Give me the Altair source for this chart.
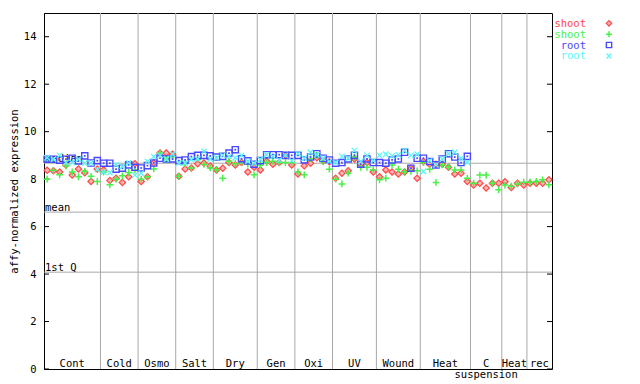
import altair as alt
import pandas as pd

FONT = "DejaVu Sans Mono"
FS = 10.5

# ---- data -------------------------------------------------------------
GROUP_LABELS = ["Cont", "Cold", "Osmo", "Salt", "Dry", "Gen", "Oxi", "UV",
                "Wound", "Heat", "C", "Heat", "rec"]
GROUP_SIZES = [9, 6, 6, 6, 7, 6, 6, 7, 7, 8, 5, 4, 4]
SUB_LABEL = "suspension"

SERIES_LABELS = ["shoot", "shoot", "root", "root"]
SERIES_COLORS = ["#ff4848", "#48f048", "#4848ff", "#5cf6f6"]

NONE13 = [None] * 13

RED = [8.37, 8.35, 8.30, 8.60, 8.17, 8.43, 8.27, 7.90, 8.43,
       8.39, 7.94, 8.04, 7.86, 8.10, 8.65,
       7.90, 8.10, 8.68, 9.10, 9.10, 9.05,
       8.12, 8.43, 8.47, 8.65, 8.68, 8.55,
       8.39, 8.46, 8.70, 8.60, 8.70, 8.30, 8.50,
       8.39, 8.75, 8.63, 8.70, 9.00, 8.60,
       8.22, 8.56, 8.67, 8.90, 8.78, 8.73,
       8.04, 8.25, 8.35, 8.85, 8.63, 8.70, 8.30,
       8.10, 8.39, 8.30, 8.22, 8.30, 8.46, 8.04,
       8.74, 8.63, 8.63, 8.63, 8.50, 8.22, 8.25, 7.90,
       7.75, 7.83, 7.63, 7.83, 7.83,
       7.89, 7.65, 7.83, 7.75,
       7.83, 7.83, 7.83, 7.97]

GREEN = [8.00, 8.37, 8.18, 8.55, 8.30, 8.10, 8.33, 8.12, 7.90,
         8.30, 7.76, 8.00, 8.14, 8.28, 8.38,
         8.00, 8.10, 8.43, 9.10, 8.85, 8.95,
         8.12, 8.65, 8.47, 8.83, 8.62, 8.47,
         8.40, 8.04, 8.75, 8.65, 8.70, 8.63, 8.18,
         8.60, 8.70, 8.75, 8.70, 8.70, 8.70,
         8.30, 8.18, 8.85, 9.00, 8.73, 8.42,
         8.00, 7.80, 8.25, 8.93, 8.50, 8.50, 8.39,
         7.97, 8.04, 8.60, 8.42, 8.30, 8.33, 8.35,
         8.70, 8.42, 7.86, 8.60, 8.52, 8.39, 8.39, 8.04,
         7.83, 8.17, 8.17, 7.83, 7.55,
         7.75, 7.70, 7.79, 7.87,
         7.87, 7.90, 7.97, 7.76]

BLUE = [8.84, 8.84, 8.80, 8.84, 8.88, 8.77, 8.98, 8.68, 8.78,
        8.67, 8.67, 8.42, 8.46, 8.60, 8.50,
        8.47, 8.57, 8.68, 8.88, 8.85, 8.85,
        8.78, 8.81, 8.95, 9.00, 9.00, 8.98,
        8.93, 8.96, 9.10, 9.24, 8.86, 8.77, 8.63,
        8.78, 9.03, 9.03, 9.03, 9.00, 9.00,
        9.00, 8.81, 8.93, 9.07, 8.88, 8.81,
        8.67, 8.70, 8.85, 9.00, 8.63, 8.85, 8.70,
        8.70, 8.67, 8.81, 8.85, 9.13, 8.46, 8.88,
        8.88, 8.74, 8.60, 8.85, 9.07, 8.93, 8.70, 8.96] + NONE13

CYAN = [8.90, 8.84, 9.00, 8.70, 8.70, 8.84, 8.68, 8.68, 8.40,
        8.30, 8.28, 8.60, 8.53, 8.68, 8.17,
        8.25, 8.75, 8.95, 9.00, 8.85, 9.05,
        8.68, 8.68, 8.83, 8.85, 9.17, 8.85,
        8.90, 9.00, 8.96, 8.90, 9.00, 8.75, 8.67,
        8.83, 9.03, 8.96, 8.80, 9.00, 8.78,
        9.07, 8.88, 9.13, 9.03, 8.88, 8.75,
        8.70, 8.96, 8.88, 9.20, 8.75, 9.00, 8.78,
        9.00, 9.05, 8.98, 9.02, 9.20, 9.00, 9.05,
        8.32, 8.78, 8.60, 8.85, 9.07, 9.13, 8.88, 8.70] + NONE13

REF_VALUES = [8.67, 6.61, 4.08]
REF_LABELS = ["median", "mean", "1st Q"]
Y_TICKS = [0, 2, 4, 6, 8, 10, 12, 14]

# ---- derived tables ------------------------------------------------------
N = sum(GROUP_SIZES)
bounds = []
acc = 0
for s in GROUP_SIZES:
    bounds.append(acc)
    acc += s
centers = [b + s / 2 for b, s in zip(bounds, GROUP_SIZES)]

W, H = 508, 356
x_scale = alt.Scale(domain=[0, N], nice=False, zero=False)
y_scale = alt.Scale(domain=[0, 15], nice=False, zero=False)
Y_AXIS = alt.Axis(values=Y_TICKS, ticks=False, tickSize=0, grid=False,
                  domain=True, domainColor="black", labelFont=FONT,
                  labelFontSize=FS, labelColor="black", labelPadding=8,
                  title="affy-normalized expression", titleFont=FONT,
                  titleFontSize=FS, titleFontWeight="normal",
                  titleColor="black", titlePadding=4)

X = lambda f="slot": alt.X(f + ":Q", scale=x_scale, axis=None)
Y = lambda f="value": alt.Y(f + ":Q", scale=y_scale, axis=Y_AXIS)


def pts(vals):
    return pd.DataFrame({"slot": [i + 0.5 for i, v in enumerate(vals) if v is not None],
                         "value": [v for v in vals if v is not None]})


layers = []

# group separators
vdf = pd.DataFrame({"slot": bounds[1:]})
layers.append(alt.Chart(vdf).mark_rule(color="#a8a8a8", strokeWidth=1).encode(
    x=X(), y=alt.value(0), y2=alt.value(H)))

# reference lines
rdf = pd.DataFrame({"value": REF_VALUES, "label": REF_LABELS})
layers.append(alt.Chart(rdf).mark_rule(color="#a8a8a8", strokeWidth=1).encode(
    y=Y(), x=alt.value(0), x2=alt.value(W)))
layers.append(alt.Chart(rdf).mark_text(font=FONT, fontSize=FS, align="left",
                                       baseline="alphabetic", dx=1, dy=-1,
                                       color="black").encode(
    y=Y(), x=alt.value(0), text="label:N"))

# inward ticks on both sides
tdf = pd.DataFrame({"value": Y_TICKS})
layers.append(alt.Chart(tdf).mark_rule(color="black").encode(
    y=Y(), x=alt.value(0), x2=alt.value(5)))
layers.append(alt.Chart(tdf).mark_rule(color="black").encode(
    y=Y(), x=alt.value(W - 5), x2=alt.value(W)))

# group labels
gdf = pd.DataFrame({"slot": centers, "label": GROUP_LABELS})
layers.append(alt.Chart(gdf).mark_text(font=FONT, fontSize=FS, align="center",
                                       baseline="alphabetic", color="black").encode(
    x=X(), y=alt.value(354), text="label:N"))
sdf = pd.DataFrame({"slot": [centers[GROUP_LABELS.index("C")]], "label": [SUB_LABEL]})
layers.append(alt.Chart(sdf).mark_text(font=FONT, fontSize=FS, align="center",
                                       baseline="alphabetic", color="black").encode(
    x=X(), y=alt.value(365), text="label:N"))

PLUS = "M-1,0H1M0,-1V1"
XSH = "M-1,-1L1,1M-1,1L1,-1"

# points
r, g, b, c = SERIES_COLORS
layers.append(alt.Chart(pts(RED)).mark_point(
    shape="diamond", size=40, fill="#ffb4b4", fillOpacity=1, stroke=r,
    strokeWidth=1.2, opacity=1).encode(x=X(), y=Y()))
layers.append(alt.Chart(pts(GREEN)).mark_point(
    shape=PLUS, size=46, filled=False, stroke=g, strokeWidth=1.5,
    opacity=1).encode(x=X(), y=Y()))
layers.append(alt.Chart(pts(BLUE)).mark_point(
    shape="square", size=38, filled=False, stroke=b, strokeWidth=1.4,
    opacity=1).encode(x=X(), y=Y()))
layers.append(alt.Chart(pts(BLUE)).mark_point(
    shape="square", size=3, filled=True, color=b, opacity=1).encode(x=X(), y=Y()))
layers.append(alt.Chart(pts(CYAN)).mark_point(
    shape=XSH, size=30, filled=False, stroke=c, strokeWidth=1.3,
    opacity=1).encode(x=X(), y=Y()))

# legend
LEG_BASE = [13.7, 24.7, 35.5, 46.3]
LEG_SYM = [10.3, 21.3, 32.0, 43.0]
sym_specs = [
    dict(shape="diamond", size=30, fill="#ffb4b4", fillOpacity=1, strokeWidth=1.2),
    dict(shape=PLUS, size=36, filled=False, strokeWidth=1.5),
    dict(shape="square", size=28, filled=False, strokeWidth=1.4),
    dict(shape=XSH, size=24, filled=False, strokeWidth=1.3),
]
for i, (lab, col) in enumerate(zip(SERIES_LABELS, SERIES_COLORS)):
    ldf = pd.DataFrame({"label": [lab]})
    layers.append(alt.Chart(ldf).mark_text(font=FONT, fontSize=FS, align="right",
                                           baseline="alphabetic", color=col).encode(
        x=alt.value(542), y=alt.value(LEG_BASE[i]), text="label:N"))
    layers.append(alt.Chart(ldf).mark_point(stroke=col, opacity=1, **sym_specs[i]).encode(
        x=alt.value(565), y=alt.value(LEG_SYM[i])))

chart = alt.layer(*layers).properties(
    width=W, height=H,
    padding={"left": 36, "top": 5, "right": 80, "bottom": 15},
    autosize=alt.AutoSizeParams(type="none"),
    background="white",
).configure_view(stroke="black", strokeWidth=1)

chart.save("out.html", embed_options={"renderer": "svg", "actions": False})
